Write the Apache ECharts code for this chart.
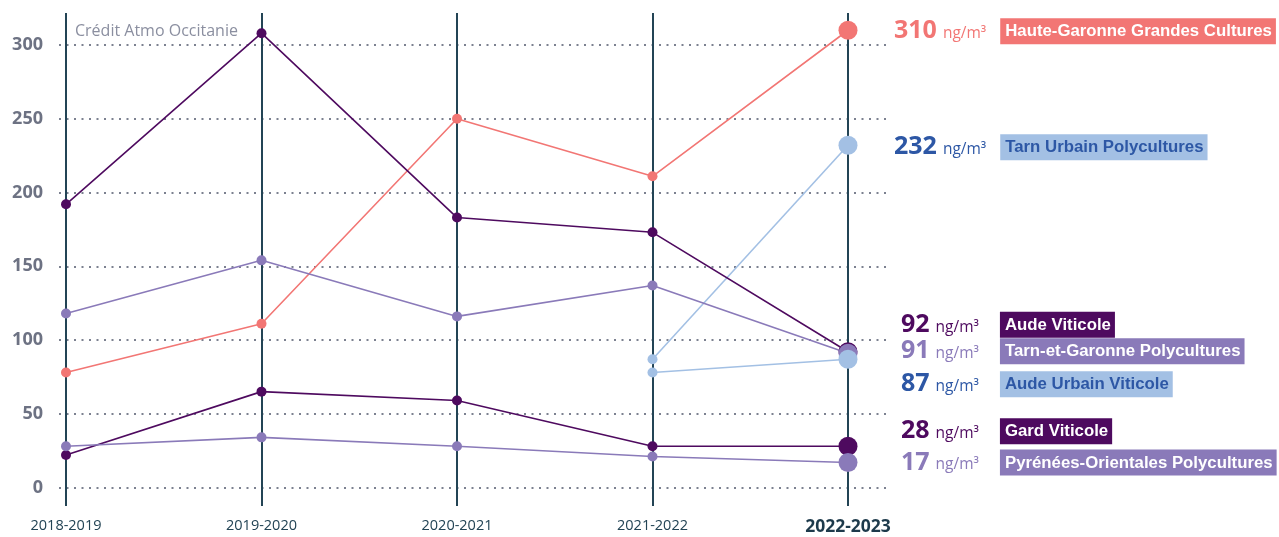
<!DOCTYPE html>
<html>
<head>
<meta charset="utf-8">
<script src="https://cdn.jsdelivr.net/npm/echarts@6/dist/echarts.min.js"></script>
<style>
  html, body { margin: 0; padding: 0; background: #fff; }
  #chart { width: 1279px; height: 537px; }
</style>
</head>
<body>
<div id="chart"></div>
<script>
// data (ng/m³)
const seasons = ["2018-2019", "2019-2020", "2020-2021", "2021-2022", "2022-2023"];
const yTicks = [0, 50, 100, 150, 200, 250, 300];

const hauteGaronne = [78, 111, 250, 211, 310];
const tarnUrbain = [null, null, null, 87, 232];
const audeViticole = [192, 308, 183, 173, 92];
const tarnEtGaronne = [118, 154, 116, 137, 91];
const audeUrbain = [null, null, null, 78, 87];
const gardViticole = [22, 65, 59, 28, 28];
const pyreneesOr = [28, 34, 28, 21, 17];

const C_SALMON = "#f27674";
const C_BLUE = "#a3c0e4";
const C_BLUE_TXT = "#2d57a5";
const C_PURPLE = "#4e0a5f";
const C_LAV = "#8a7ab9";

// name, values, line colour, text colour, box text colour, label y shift
const lines = [
  ["Haute-Garonne Grandes Cultures", hauteGaronne, C_SALMON, C_SALMON, "#fff", 1],
  ["Tarn Urbain Polycultures", tarnUrbain, C_BLUE, C_BLUE_TXT, C_BLUE_TXT, 2],
  ["Aude Viticole", audeViticole, C_PURPLE, C_PURPLE, "#fff", -27],
  ["Tarn-et-Garonne Polycultures", tarnEtGaronne, C_LAV, C_LAV, "#fff", -2],
  ["Aude Urbain Viticole", audeUrbain, C_BLUE, C_BLUE_TXT, C_BLUE_TXT, 25],
  ["Gard Viticole", gardViticole, C_PURPLE, C_PURPLE, "#fff", -15],
  ["Pyrénées-Orientales Polycultures", pyreneesOr, C_LAV, C_LAV, "#fff", 0],
];

const last = seasons.length - 1;
const UNIT = "ng/m³";
const NUM_FONT = "bold 25px 'Open Sans'";
const UNIT_FONT = "15.5px 'Open Sans'";

// measure texts so the number is centred, the unit follows it, and the box starts at a fixed x
const ctx = document.createElement("canvas").getContext("2d");
function textWidth(t, font) {
  ctx.font = font;
  return ctx.measureText(t).width;
}

const LABEL_DX = 37;   // label start right of the last point
const NUM_CENTER = 30; // number centred here inside the label
const GAP = 6;         // number -> unit
const BOX_AT = 115;    // name box start inside the label

const series = lines.map(([name, values, color, txt, boxTxt, dy]) => {
  const endVal = values[last];
  const w = textWidth(String(endVal), NUM_FONT);
  const uw = textWidth(UNIT, UNIT_FONT);
  const padL = Math.round(NUM_CENTER - w / 2);
  const padR = Math.max(0, Math.round(BOX_AT - padL - w - GAP - uw));
  return {
    name: name,
    type: "line",
    xAxisIndex: 2,
    yAxisIndex: 2,
    data: values,
    clip: false,
    symbol: "circle",
    symbolSize: (v, p) => (p.dataIndex === last ? 19 : 10),
    lineStyle: { color: color, width: 1.6 },
    itemStyle: { color: color },
    endLabel: {
      show: true,
      distance: 0,
      offset: [LABEL_DX, dy],
      formatter: (p) => "{v|" + p.value + "}{u|" + UNIT + "}{n|" + name + "}",
      rich: {
        v: {
          color: txt, padding: [0, 0, 0, padL],
          fontFamily: "Open Sans", fontWeight: "bold", fontSize: 25,
        },
        u: {
          color: txt, padding: [5, padR, 0, GAP],
          fontFamily: "Open Sans", fontSize: 15.5,
        },
        n: {
          color: boxTxt, backgroundColor: color,
          fontFamily: "Liberation Sans, Arial, sans-serif",
          fontWeight: "bold", fontSize: 16.8, padding: [5, 4, 4, 5],
        },
      },
    },
    z: 3,
  };
});

const chart = echarts.init(document.getElementById("chart"));
chart.setOption({
  animation: false,
  grid: [
    // dotted horizontal rules + y labels
    { left: 59, right: 393, top: 45, bottom: 49.5 },
    // vertical season lines
    { left: 66, right: 431, top: 13, bottom: 31 },
    // plotted lines
    { left: 66, right: 431, top: 45, bottom: 49.5 },
  ],
  xAxis: [
    { gridIndex: 0, type: "value", show: false },
    {
      gridIndex: 1, type: "category", boundaryGap: false, data: seasons,
      axisLine: { show: false }, axisTick: { show: false }, axisLabel: { show: false },
      splitLine: { show: true, lineStyle: { color: "#234455", width: 2 } },
    },
    {
      gridIndex: 2, type: "category", boundaryGap: false, data: seasons,
      axisLine: { show: false }, axisTick: { show: false },
      axisLabel: {
        margin: 31,
        fontFamily: "Open Sans",
        fontSize: 14.5,
        color: "#234455",
        formatter: (v, i) => (i === last ? "{b|" + v + "}" : v),
        rich: { b: { fontFamily: "Open Sans", fontSize: 17.5, fontWeight: "bold", color: "#1d3a4b" } },
      },
    },
  ],
  yAxis: [
    {
      gridIndex: 0, type: "value", min: yTicks[0], max: yTicks[yTicks.length - 1], interval: 50,
      axisLine: { show: false }, axisTick: { show: false },
      axisLabel: { margin: 16, fontFamily: "Open Sans", fontWeight: "bold", fontSize: 18, color: "#6d7283" },
      splitLine: { lineStyle: { color: "#7c8190", width: 2, type: [2, 5.5] } },
    },
    { gridIndex: 1, type: "value", show: false, splitLine: { show: false } },
    { gridIndex: 2, type: "value", min: 0, max: 300, show: false, splitLine: { show: false } },
  ],
  graphic: [
    {
      type: "text", left: 75, top: 23,
      style: { text: "Crédit Atmo Occitanie", fill: "#8b8fa0", font: "16px 'Open Sans'" },
    },
  ],
  series: series,
});
</script>
</body>
</html>
